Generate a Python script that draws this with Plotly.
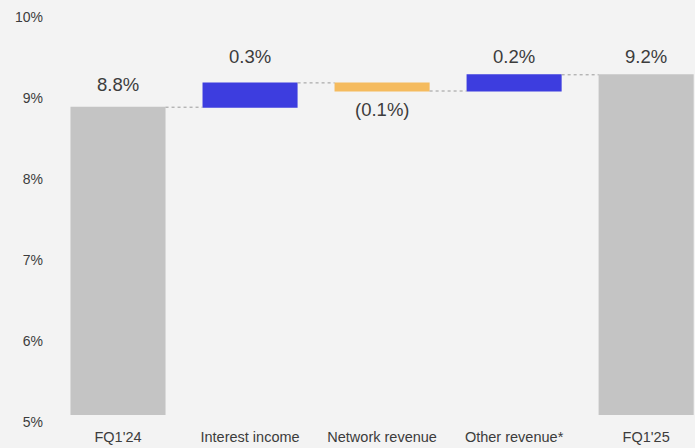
import plotly.graph_objects as go

# Revenue yield bridge, FQ1'24 -> FQ1'25 (percentage points)
categories = ["FQ1'24", "Interest income", "Network revenue", "Other revenue*", "FQ1'25"]
measures = ["absolute", "relative", "relative", "relative", "total"]
values = [8.8, 0.3, -0.1, 0.2, 9.2]
y_ticks = [5, 6, 7, 8, 9, 10]

# Distance (px) from the bar edge to the centre of each value label
label_offsets = [23, 26, -18, 18, 18]

FONT = "Liberation Sans, Arial, Helvetica, sans-serif"
BG = "#f3f3f3"
TEXT = "#3c3c3c"


def fmt(v):
    return f"({abs(v):.1f}%)" if v < 0 else f"{v:.1f}%"


fig = go.Figure(
    go.Waterfall(
        x=list(range(len(categories))),
        measure=measures,
        y=values,
        base=0,
        width=0.72,
        increasing=dict(marker=dict(color="#3d3ddf")),
        decreasing=dict(marker=dict(color="#f5bb5e")),
        totals=dict(marker=dict(color="#c4c4c4")),
        connector=dict(mode="between", line=dict(color="#9a9a9a", width=1, dash="dot")),
        hoverinfo="skip",
    )
)

# Value labels above rising / total bars and below falling bars
running = 0.0
for i, (m, v) in enumerate(zip(measures, values)):
    if m == "absolute":
        start, end = 0.0, v
        running = v
    elif m == "total":
        start, end = 0.0, running
    else:
        start, end = running, running + v
        running = end
    label_val = running if m == "total" else v
    edge = min(start, end) if (m == "relative" and v < 0) else max(start, end)
    fig.add_annotation(x=i, y=edge, text=fmt(label_val), showarrow=False,
                       yanchor="middle", yshift=label_offsets[i],
                       font=dict(family=FONT, size=18.5, color=TEXT))

fig.update_layout(
    width=695,
    height=448,
    margin=dict(l=52, r=0, t=10, b=33),
    paper_bgcolor=BG,
    plot_bgcolor=BG,
    showlegend=False,
    font=dict(family=FONT, color=TEXT),
    xaxis=dict(
        range=[-0.5, 4.37],
        tickmode="array",
        tickvals=list(range(len(categories))),
        ticktext=categories,
        showgrid=False,
        zeroline=False,
        showline=False,
        ticks="",
        ticklabelstandoff=11,
        tickfont=dict(family=FONT, size=14.5, color=TEXT),
    ),
    yaxis=dict(
        range=[5, 10],
        tickmode="array",
        tickvals=y_ticks,
        ticktext=[f"{t}%" for t in y_ticks],
        showgrid=False,
        zeroline=False,
        showline=False,
        ticks="",
        ticklabelstandoff=8,
        ticklabelshift=7,
        tickfont=dict(family=FONT, size=14, color=TEXT),
    ),
)

fig.write_html("out.html")
